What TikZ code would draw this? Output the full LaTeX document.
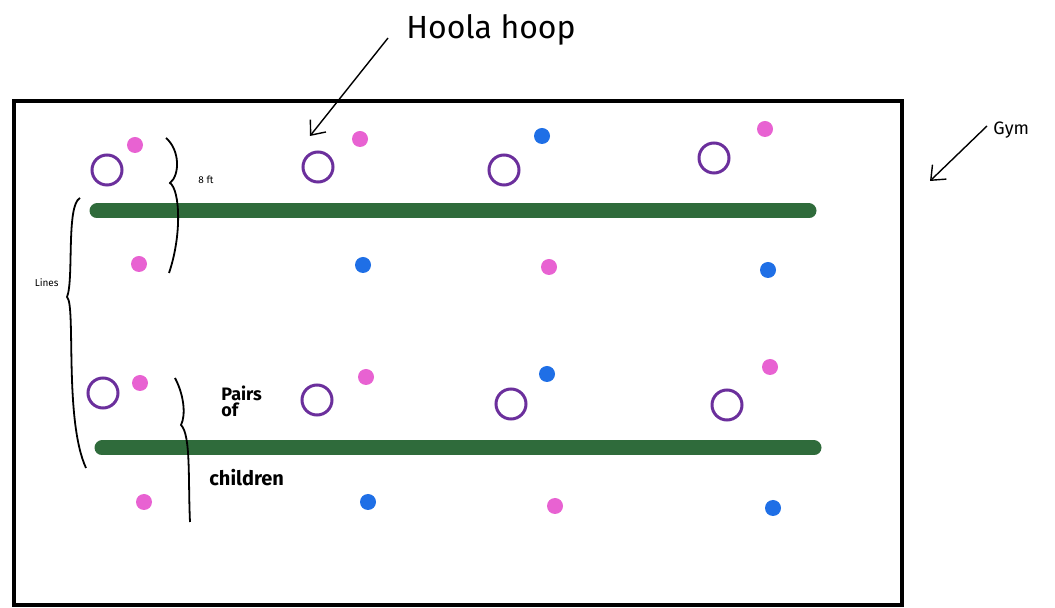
\documentclass[tikz,border=0pt]{standalone}
\usepackage{fontspec}
\setmainfont{Fira Sans}
\usetikzlibrary{arrows.meta}
\definecolor{floorgreen}{HTML}{2F6B3B}
\definecolor{hoopviolet}{HTML}{6B2F9C}
\definecolor{kidpink}{HTML}{E862D2}
\definecolor{kidblue}{HTML}{1F6FE6}
\begin{document}
\begin{tikzpicture}[x=0.5pt,y=-0.5pt,
  hoop/.style={circle,draw=hoopviolet,line width=1.5pt,minimum size=15pt,inner sep=0},
  pinkkid/.style={circle,fill=kidpink,minimum size=8pt,inner sep=0},
  bluekid/.style={circle,fill=kidblue,minimum size=8pt,inner sep=0},
  floorline/.style={line width=7.5pt,floorgreen,line cap=round},
  hand/.style={line width=0.9pt,black},
  note/.style={font=\small,inner sep=1pt},
  pointer/.style={line width=0.7pt,-{Straight Barb[length=6pt,width=10pt]}}]
\useasboundingbox (0,0) rectangle (1055,608);
% gym outline
\draw[line width=1.6pt] (14,101) rectangle (902,605);
% floor lines
\draw[floorline] (97,211) -- (809,211);
\draw[floorline] (102,448) -- (814,448);
% hoops, top row
\node[hoop] (h1) at (107,170) {};
\node[hoop] (h2) at (318,167) {};
\node[hoop] (h3) at (504,170) {};
\node[hoop] (h4) at (714,158) {};
% hoops, bottom row
\node[hoop] (h5) at (103,393) {};
\node[hoop] (h6) at (317,400) {};
\node[hoop] (h7) at (511,404) {};
\node[hoop] (h8) at (727,405) {};
% children, first pair of rows
\node[pinkkid] (k1) at (135,145) {};
\node[pinkkid] (k2) at (360,139) {};
\node[bluekid] (k3) at (542,136) {};
\node[pinkkid] (k4) at (765,129) {};
\node[pinkkid] (k5) at (139,264) {};
\node[bluekid] (k6) at (363,265) {};
\node[pinkkid] (k7) at (549,267) {};
\node[bluekid] (k8) at (768,270) {};
% children, second pair of rows
\node[pinkkid] (k9) at (140,383) {};
\node[pinkkid] (k10) at (366,377) {};
\node[bluekid] (k11) at (547,374) {};
\node[pinkkid] (k12) at (770,367) {};
\node[pinkkid] (k13) at (144,502) {};
\node[bluekid] (k14) at (368,502) {};
\node[pinkkid] (k15) at (555,506) {};
\node[bluekid] (k16) at (773,508) {};
% hand-drawn braces
\draw[hand] (166,138) .. controls (180,150) and (180,175) .. (170,183)
  .. controls (180,190) and (182,235) .. (169,273);
\draw[hand] (80,198) .. controls (66,205) and (74,280) .. (67,297)
  .. controls (76,305) and (64,420) .. (86,468);
\draw[hand] (175,378) .. controls (184,395) and (186,415) .. (181,425)
  .. controls (191,435) and (188,480) .. (190,522);
% labels
\node[note,font=\tiny] (ft) at (206,180) {8 ft};
\node[note,font=\tiny,anchor=east] (lines) at (61,283) {Lines};
\node[note,align=left,anchor=north west,font=\small\bfseries] (pairs) at (219,384) {Pairs\\[-3pt]of};
\node[note,font=\normalsize\bfseries,anchor=west] (kids) at (207,478) {children};
\node[font=\fontsize{16}{18}\selectfont] (hoola) at (491,30) {Hoola hoop};
\node[note,anchor=west] (gym) at (991,130) {Gym};
% pointers
\coordinate (hooptip) at (310,136);
\coordinate (gymtip) at (930,181);
\draw[pointer] (388,38) -- (hooptip);
\draw[pointer] (987,126) -- (gymtip);
\end{tikzpicture}
\end{document}
